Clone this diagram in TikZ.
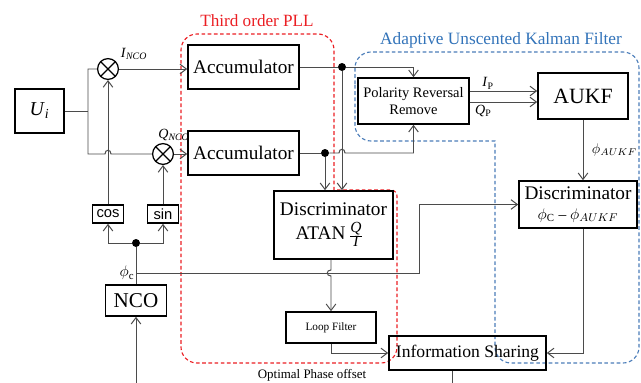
\documentclass[tikz,border=0pt]{standalone}
\usepackage{fontspec}
\setmainfont{Liberation Serif}
\newfontfamily\arialfnt{Liberation Sans}
\usetikzlibrary{arrows.meta,calc}
\definecolor{pllRed}{RGB}{235,30,35}
\definecolor{ukfBlue}{RGB}{75,125,185}
\definecolor{ukfText}{RGB}{50,115,185}
\definecolor{wireGray}{RGB}{75,75,75}

\begin{document}
\begin{tikzpicture}[x=0.025cm,y=-0.025cm,
    box/.style={draw,line width=1.1pt,inner sep=1pt,align=center,font=\fontsize{13.7}{15}\selectfont},
    trig/.style={draw,line width=1.1pt,inner sep=0pt,minimum width=7.75mm,minimum height=4.5mm,font=\arialfnt\fontsize{10.5}{12}\selectfont},
    mixer/.style={circle,draw,line width=0.9pt,minimum size=5.2mm,inner sep=0pt,
      path picture={\draw[line width=0.9pt] (path picture bounding box.north west) -- (path picture bounding box.south east)
        (path picture bounding box.north east) -- (path picture bounding box.south west);}},
    dot/.style={circle,fill,inner sep=0pt,minimum size=2mm},
    wire/.style={draw=wireGray,line width=0.7pt},
    arr/.style={wire,-{Straight Barb[length=1.6mm,width=2.4mm]}},
    lbl/.style={font=\fontsize{10}{12}\selectfont},
    region/.style={dashed,dash pattern=on 2.6pt off 1.8pt,line width=0.8pt}]
  \useasboundingbox (0,0) rectangle (641,383);

  % regions
  \draw[region,pllRed] (181,120) [rounded corners=4mm] -- (181,363) -- (397,363) [rounded corners=1.5mm] -- (397,190)
    [sharp corners] -- (334,190) [rounded corners=4mm] -- (334,34) -- (181,34) -- cycle;
  \draw[region,ukfBlue] (355,100) [rounded corners=4mm] -- (355,52) -- (639,52) -- (639,363) -- (495,363)
    [sharp corners] -- (495,141) [rounded corners=4mm] -- (355,141) -- cycle;
  \node[font=\fontsize{12.2}{14}\selectfont,text=pllRed] (pllT) at (257,21) {Third order PLL};
  \node[font=\fontsize{12.3}{14}\selectfont,text=ukfText] (ukfT) at (501,40) {Adaptive Unscented Kalman Filter};
  \node[font=\fontsize{9.2}{11}\selectfont] (optT) at (312,375) {Optimal Phase offset};

  % blocks
  \node[box,minimum width=12.25mm,minimum height=11mm,font=\fontsize{14}{16}\selectfont] (ui) at (39.5,111) {\textit{U}\textsubscript{\textit{i}}};
  \node[mixer] (mixI) at (108,69) {};
  \node[mixer] (mixQ) at (163,154) {};
  \node[box,minimum width=27.75mm,minimum height=11mm] (accTop) at (243.5,67) {Accumulator};
  \node[box,minimum width=27.75mm,minimum height=11mm] (accBot) at (243.5,153) {Accumulator};
  \node[box,minimum width=29.75mm,minimum height=17mm] (disc1) at (333.5,225)
    {Discriminator\\[2pt]ATAN\,{\fontsize{11}{12}\selectfont$\frac{\textit{Q}}{\textit{I}}$}\hspace*{2mm}};
  \node[box,minimum width=27.75mm,minimum height=11.5mm,font=\fontsize{10.3}{12.5}\selectfont] (pol) at (413.5,101) {Polarity Reversal\\Remove};
  \node[box,minimum width=22.5mm,minimum height=11.5mm,font=\fontsize{15.5}{17}\selectfont] (aukf) at (583,96) {AUKF};
  \node[box,minimum width=29.5mm,minimum height=11.75mm] (disc2) at (578,204.5) {Discriminator\\[-1pt]{\fontsize{11}{13}\selectfont$\phi_{\mathrm{C}}$ -- $\phi_{AUKF}$}};
  \node[box,minimum width=22.5mm,minimum height=7.75mm,font=\fontsize{8}{10}\selectfont] (loopf) at (331,327.5) {Loop Filter};
  \node[box,minimum width=39.25mm,minimum height=8.5mm,font=\fontsize{12.5}{14}\selectfont] (infos) at (467.5,353) {Information Sharing};
  \node[trig] (cos) at (108,214) {cos};
  \node[trig] (sin) at (163,214) {sin};
  \node[box,minimum width=15.25mm,minimum height=7.75mm,font=\fontsize{15}{17}\selectfont] (nco) at (136,300.5) {NCO};
  \node[dot] (jn) at (136,243) {};
  \node[dot] (j1) at (342,67) {};
  \node[dot] (j2) at (325,153) {};

  \node[lbl] (iNco) at (134,54) {\textit{I}\textsubscript{\textit{\scriptsize NCO}}};
  \node[lbl] (qNco) at (174,135) {\textit{Q}\textsubscript{\textit{\scriptsize NCO}}};

  \coordinate (sp1) at (88,69);
  \coordinate (sp2) at (88,154);
  \coordinate (pc) at (136,273);
  \coordinate (bend) at (419,273);
  \coordinate (ncoIn) at (136,383);
  \coordinate (infoOut) at (452,383);
  \coordinate (ipIn) at ($(aukf.west)+(0,-5)$);
  \coordinate (qpIn) at ($(aukf.west)+(0,6)$);

  % front end
  \draw[wire] (ui) -- (ui.east |- 0,111) -- (sp1 |- 0,111);
  \draw[wire] (mixI) -- (sp1) -- (sp2) -- (105,154) .. controls (105,149) and (111,149) .. (111,154) -- (mixQ);
  \draw[arr] (mixI) -- (mixI -| accTop.west);
  \draw[arr] (mixQ) -- (mixQ -| accBot.west);
  \draw[arr] (cos) -- (mixI);
  \draw[arr] (sin) -- (mixQ);
  \draw[arr] (jn) -| (cos);
  \draw[arr] (jn) -| (sin);
  \draw[wire] (nco) -- (jn);
  \draw[arr] (ncoIn) -- (nco);
  \draw[arr] (pc) -- (bend) |- (disc2);
  \node[font=\fontsize{11}{13}\selectfont,anchor=east,inner sep=1pt] (phc) at (pc) {$\phi_{\mathrm{c}}$};

  % loop
  \draw[wire] (accTop) -- (j1);
  \draw[arr] (j1) -| (pol);
  \draw[arr] (j1) -- (j1 |- disc1.north);
  \draw[wire] (accBot) -- (j2);
  \draw[arr] (j2) -- (j2 |- disc1.north);
  \draw[arr] (j2) -- (339,153) .. controls (339,148) and (345,148) .. (345,153) -| (pol);
  \draw[arr] (disc1.south -| loopf) -- (331,270) .. controls (326,270) and (326,276) .. (331,276) -- (loopf);
  \draw[arr] (loopf) |- (infos);

  % filter side
  \draw[arr] (pol.east |- ipIn) -- (ipIn) node[lbl,pos=0.27,above,inner sep=1pt] {\textit{I}\textsubscript{P}};
  \draw[arr] (pol.east |- qpIn) -- (qpIn) node[lbl,pos=0.2,below,inner sep=2pt] {\textit{Q}\textsubscript{P}};
  \draw[arr] (aukf) -- (aukf |- disc2.north) node[midway,right,inner sep=6pt,font=\fontsize{10}{12}\selectfont] {$\phi_{AUKF}$};
  \draw[arr] (aukf |- disc2.south) |- (infos);
  \draw[wire] (infoOut |- infos.south) -- (infoOut);
\end{tikzpicture}
\end{document}
